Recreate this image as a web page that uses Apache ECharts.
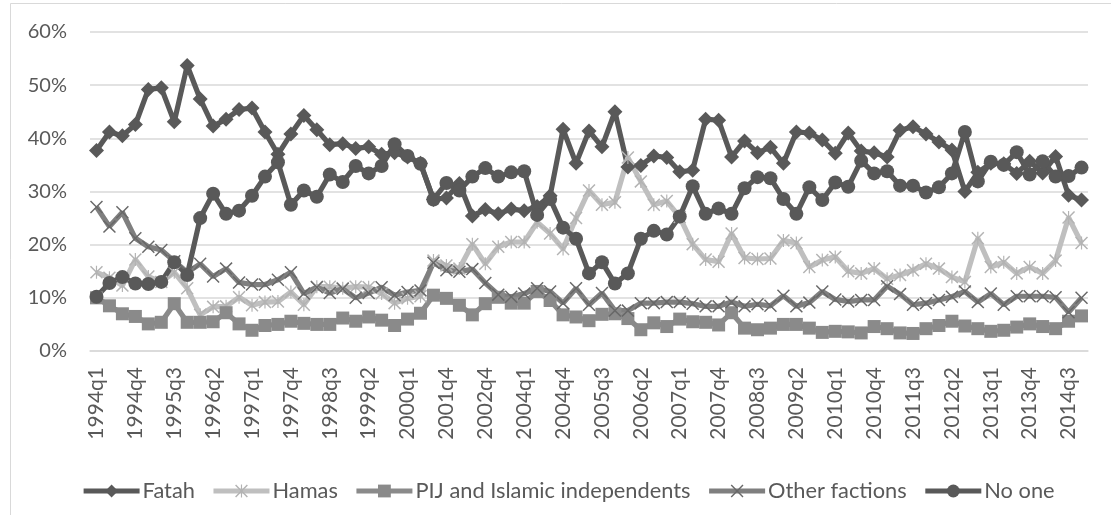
<!DOCTYPE html>
<html><head><meta charset="utf-8">
<script src="https://cdn.jsdelivr.net/npm/echarts@6/dist/echarts.min.js"></script>
<style>html,body{margin:0;padding:0;background:#fff}#c{width:1111px;height:515px}</style>
</head><body><div id="c"></div>
<script>
const categories = [
 '1994q1','1994q2','1994q3','1994q4','1995q1','1995q2','1995q3','1995q4','1996q1','1996q2',
 '1996q3','1996q4','1997q1','1997q2','1997q3','1997q4','1998q1','1998q2','1998q3','1998q4',
 '1999q1','1999q2','1999q3','1999q4','2000q1','2000q3','2001q2','2001q4','2002q1','2002q2',
 '2002q4','2003q2','2003q3','2004q1','2004q2','2004q3','2004q4','2005q1','2005q2','2005q3',
 '2005q4','2006q1','2006q2','2006q3','2006q4','2007q1','2007q2','2007q3','2007q4','2008q1',
 '2008q2','2008q3','2008q4','2009q1','2009q2','2009q3','2009q4','2010q1','2010q2','2010q3',
 '2010q4','2011q1','2011q2','2011q3','2011q4','2012q1','2012q2','2012q3','2012q4','2013q1',
 '2013q2','2013q3','2013q4','2014q1','2014q2','2014q3','2014q4'];
const fatah = [
 37.7, 41.2, 40.5, 42.6, 49.2, 49.5, 43.1, 53.7, 47.4, 42.3,
 43.6, 45.4, 45.7, 41.2, 37.0, 40.8, 44.3, 41.6, 38.8, 39.0,
 38.1, 38.4, 37.0, 37.3, 36.5, 35.3, 28.5, 28.8, 31.5, 25.4,
 26.6, 25.8, 26.7, 26.4, 27.2, 29.2, 41.7, 35.3, 41.4, 38.4,
 45.0, 34.6, 34.9, 36.7, 36.4, 33.7, 34.0, 43.6, 43.4, 36.5,
 39.5, 37.3, 38.3, 35.3, 41.2, 41.0, 39.7, 37.2, 41.0, 37.6,
 37.3, 36.5, 41.5, 42.2, 40.8, 39.3, 37.8, 30.0, 33.6, 35.3,
 35.2, 33.4, 35.7, 33.5, 36.6, 29.3, 28.4];
const hamas = [
 14.8, 13.8, 12.3, 17.2, 14.0, 13.0, 14.8, 11.8, 6.8, 8.3,
 8.4, 10.1, 8.6, 9.2, 9.3, 11.1, 8.7, 12.1, 12.1, 11.8,
 12.1, 12.0, 10.8, 9.0, 9.9, 10.3, 17.0, 16.1, 15.5, 20.1,
 16.4, 19.6, 20.5, 20.5, 24.2, 22.1, 19.2, 25.0, 30.2, 27.5,
 28.0, 36.4, 31.9, 27.5, 28.2, 25.2, 20.1, 17.2, 16.8, 22.1,
 17.5, 17.3, 17.4, 20.8, 20.3, 15.8, 17.1, 17.7, 15.0, 14.6,
 15.5, 13.6, 14.3, 15.2, 16.4, 15.5, 13.9, 13.0, 21.2, 15.8,
 16.7, 14.6, 15.8, 14.6, 17.0, 25.1, 20.3];
const pij = [
 10.0, 8.5, 7.0, 6.5, 5.1, 5.4, 8.9, 5.4, 5.4, 5.5,
 7.2, 5.1, 3.9, 4.8, 5.0, 5.6, 5.2, 5.0, 5.0, 6.2,
 5.6, 6.4, 5.8, 4.8, 6.0, 7.1, 10.5, 9.9, 8.6, 6.8,
 8.9, 10.1, 9.0, 9.0, 11.2, 9.5, 6.8, 6.4, 5.7, 6.9,
 7.0, 6.1, 4.0, 5.3, 4.6, 6.0, 5.5, 5.4, 4.9, 7.2,
 4.3, 4.0, 4.3, 5.0, 5.0, 4.3, 3.5, 3.7, 3.6, 3.4,
 4.6, 4.2, 3.4, 3.3, 4.2, 4.8, 5.6, 4.7, 4.2, 3.7,
 3.9, 4.5, 5.1, 4.6, 4.2, 5.6, 6.6];
const other = [
 27.1, 23.4, 26.1, 21.2, 19.6, 19.0, 16.9, 14.8, 16.4, 14.0,
 15.5, 12.9, 12.5, 12.5, 13.4, 14.8, 10.8, 12.0, 10.9, 11.7,
 10.0, 10.9, 12.0, 10.5, 11.1, 11.4, 16.6, 15.2, 14.9, 15.4,
 12.8, 10.6, 10.2, 10.8, 11.8, 11.2, 9.0, 11.8, 8.7, 10.9,
 7.6, 7.6, 9.0, 9.0, 9.2, 9.2, 8.9, 8.4, 8.4, 9.2,
 8.4, 8.8, 8.5, 10.4, 8.4, 9.1, 11.2, 9.7, 9.3, 9.6,
 9.6, 12.2, 10.7, 8.7, 9.0, 9.6, 10.2, 11.2, 9.2, 10.8,
 8.7, 10.3, 10.3, 10.3, 10.1, 7.3, 10.0];
const noOne = [
 10.2, 12.8, 13.9, 12.7, 12.6, 13.0, 16.7, 14.3, 25.0, 29.6,
 25.8, 26.4, 29.2, 32.8, 35.5, 27.5, 30.2, 29.0, 33.2, 31.8,
 34.8, 33.4, 34.8, 38.9, 36.7, 35.2, 28.5, 31.6, 30.2, 32.8,
 34.4, 32.8, 33.6, 33.8, 25.6, 28.6, 23.2, 21.1, 14.6, 16.7,
 12.7, 14.6, 21.1, 22.6, 21.9, 25.3, 31.0, 25.8, 26.8, 25.8,
 30.6, 32.7, 32.5, 28.6, 25.8, 30.8, 28.4, 31.7, 30.9, 35.8,
 33.4, 33.8, 31.1, 31.1, 29.8, 30.8, 33.4, 41.2, 31.9, 35.6,
 35.0, 37.4, 33.2, 35.7, 32.8, 32.9, 34.5];
const seriesNames = ['Fatah', 'Hamas', 'PIJ and Islamic independents', 'Other factions', 'No one'];
const yTicks = [0, 10, 20, 30, 40, 50, 60];

const xPath = 'path://M0,1.6 L1.6,0 L10,8.4 L18.4,0 L20,1.6 L11.6,10 L20,18.4 L18.4,20 L10,11.6 L1.6,20 L0,18.4 L8.4,10 Z';
const starPath = 'path://M0,1.6 L1.6,0 L10,8.4 L18.4,0 L20,1.6 L11.6,10 L20,18.4 L18.4,20 L10,11.6 L1.6,20 L0,18.4 L8.4,10 Z M9.1,0 L10.9,0 L10.9,20 L9.1,20 Z';

const FONT = 'Lato, "Liberation Sans", sans-serif';
const chart = echarts.init(document.getElementById('c'), null, {renderer: 'canvas'});

function mk(name, data, lineColor, markColor, symbol, size) {
  return {
    name, type: 'line', data, symbol, symbolSize: size, symbolKeepAspect: true,
    showAllSymbol: true, smooth: false, animation: false,
    lineStyle: {color: lineColor, width: 5.2},
    itemStyle: {color: markColor, borderWidth: 0},
    emphasis: {disabled: true}
  };
}

chart.setOption({
  backgroundColor: '#ffffff',
  animation: false,
  textStyle: {fontFamily: FONT},
  graphic: [{
    type: 'rect', left: 8, top: 1, silent: true,
    shape: {width: 1200, height: 600},
    style: {fill: 'none', stroke: '#d9d9d9', lineWidth: 1}
  }],
  grid: {left: 90, right: 23, top: 32, bottom: 164, containLabel: false},
  legend: {
    data: seriesNames, left: 81, top: 480, padding: 0,
    itemWidth: 56, itemHeight: 16, itemGap: 16,
    lineStyle: {width: 5.2},
    textStyle: {fontSize: 21.8, color: '#595959', fontFamily: FONT, padding: [0, 0, 0, -2]}
  },
  xAxis: {
    type: 'category', data: categories, boundaryGap: true,
    axisLine: {lineStyle: {color: '#d9d9d9', width: 1.5}},
    axisTick: {show: false},
    axisLabel: {interval: 2, rotate: 90, fontSize: 21, color: '#595959', margin: 16, fontFamily: FONT}
  },
  yAxis: {
    type: 'value', min: yTicks[0], max: yTicks[yTicks.length - 1], interval: 10,
    axisLine: {show: false}, axisTick: {show: false},
    splitLine: {lineStyle: {color: '#d9d9d9', width: 1.5}},
    axisLabel: {formatter: v => v + '%', fontSize: 20, color: '#595959', margin: 23, fontFamily: FONT}
  },
  series: [
    mk(seriesNames[0], fatah, '#595959', '#595959', 'diamond', 15),
    mk(seriesNames[1], hamas, '#bfbfbf', '#b3b3b3', starPath, 13),
    mk(seriesNames[2], pij, '#8a8a8a', '#8a8a8a', 'rect', 13),
    mk(seriesNames[3], other, '#7f7f7f', '#686868', xPath, 13),
    mk(seriesNames[4], noOne, '#595959', '#595959', 'circle', 14)
  ]
});
</script>
</body></html>
